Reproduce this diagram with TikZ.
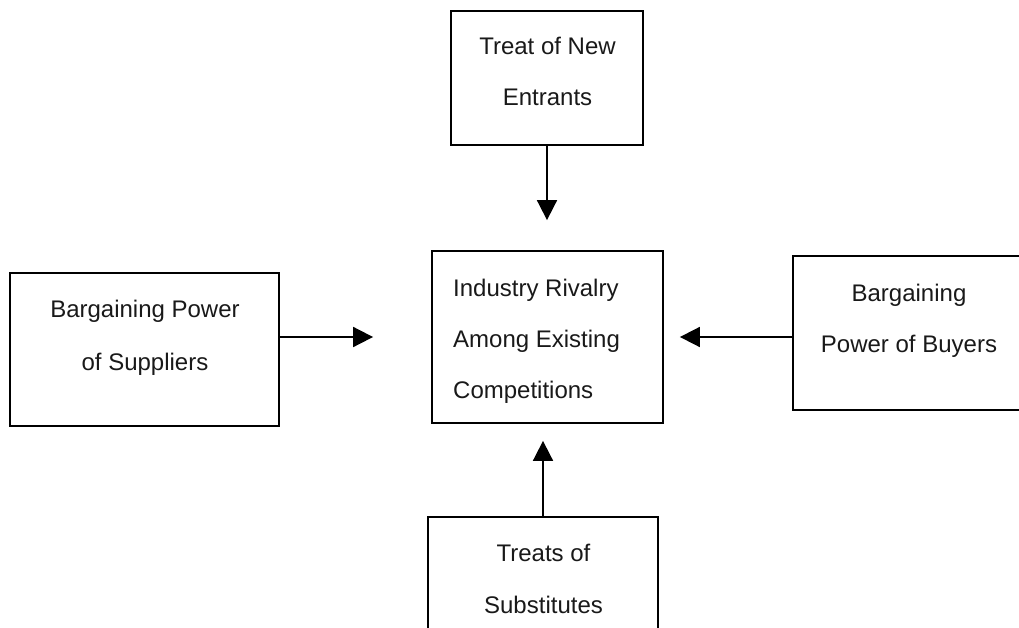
\documentclass[tikz,border=0pt]{standalone}
\usepackage{fontspec}
\setmainfont{Liberation Sans}
\usetikzlibrary{arrows.meta}
\begin{document}
\begin{tikzpicture}[x=1pt,y=-1pt,
  box/.style={draw=black,line width=1.8pt,fill=none,inner sep=0pt,
    minimum width=#1},
  txt/.style={inner sep=0pt,anchor=base,font=\fontsize{24}{28}\selectfont,text=black!90},
  ltxt/.style={txt,anchor=base west},
  arr/.style={line width=1.8pt,-{Triangle[length=20pt,width=20pt]}}]
  \useasboundingbox (0,0) rectangle (1019,628);
  % five forces boxes
  \node[box=192pt,minimum height=134pt] (top)    at (547,78)    {};
  \node[box=231pt,minimum height=172pt] (mid)    at (547.5,337) {};
  \node[box=269pt,minimum height=153pt] (left)   at (144.5,349.5) {};
  \node[box=232pt,minimum height=154pt] (right)  at (909,333)   {};
  \node[box=230pt,minimum height=162pt] (bottom) at (543,598)   {};
  % labels
  \node[txt] (t1) at (547.5,55)  {Treat of New};
  \node[txt] (t2) at (547.5,106) {Entrants};
  \node[ltxt] (m1) at (453,296) {Industry Rivalry};
  \node[ltxt] (m2) at (453,347) {Among Existing};
  \node[ltxt] (m3) at (453,398) {Competitions};
  \node[txt] (l1) at (145,317) {Bargaining Power};
  \node[txt] (l2) at (145,370) {of Suppliers};
  \node[txt] (r1) at (909,301) {Bargaining};
  \node[txt] (r2) at (909,352) {Power of Buyers};
  \node[txt] (b1) at (543.5,561) {Treats of};
  \node[txt] (b2) at (543.5,613) {Substitutes};
  % forces acting on the industry
  \draw[arr,shorten >=30pt] (top.south) -- (top.south |- mid.north);
  \draw[arr,shorten >=17pt] (bottom.north) -- (bottom.north |- mid.south);
  \draw[arr,shorten >=58pt] (left.east |- mid.center) -- (mid.west);
  \draw[arr,shorten >=16pt] (right.west |- mid.center) -- (mid.east);
\end{tikzpicture}
\end{document}
